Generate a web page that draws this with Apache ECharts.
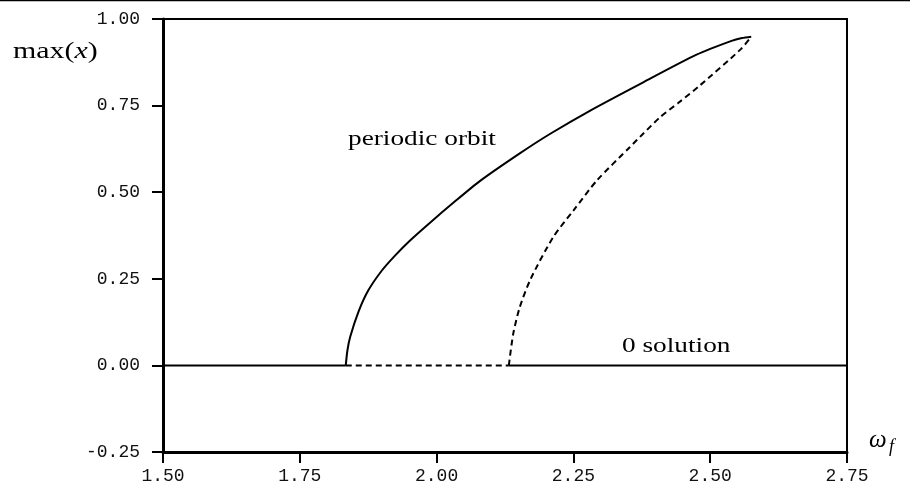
<!DOCTYPE html>
<html>
<head>
<meta charset="utf-8">
<script src="https://cdn.jsdelivr.net/npm/echarts@6/dist/echarts.min.js"></script>
<style>
html,body{margin:0;padding:0;background:#fff;}
#c{width:910px;height:488px;}
</style>
</head>
<body>
<div id="c"></div>
<script>
// Axis ticks
const xTicks = [1.50, 1.75, 2.00, 2.25, 2.50, 2.75];
const yTicks = [-0.25, 0.00, 0.25, 0.50, 0.75, 1.00];

// Zero solution segments
const zeroStableLeft = [[1.50, 0], [1.834, 0]];
const zeroUnstable = [[1.834, 0], [2.132, 0]];
const zeroStableRight = [[2.132, 0], [2.75, 0]];

// Periodic orbit: stable (upper, solid) branch
const orbitStable = [
  [1.834, 0.000], [1.837, 0.043], [1.842, 0.082], [1.857, 0.154], [1.875, 0.216],
  [1.900, 0.274], [1.924, 0.317], [1.951, 0.360], [1.988, 0.412], [2.031, 0.470],
  [2.079, 0.532], [2.152, 0.612], [2.207, 0.668], [2.280, 0.735], [2.375, 0.815],
  [2.475, 0.897], [2.539, 0.937], [2.558, 0.945], [2.575, 0.949]
];

// Periodic orbit: unstable (lower, dashed) branch
const orbitUnstable = [
  [2.132, 0.000], [2.140, 0.091], [2.152, 0.168], [2.172, 0.250], [2.213, 0.370],
  [2.250, 0.447], [2.293, 0.534], [2.353, 0.630], [2.377, 0.668], [2.408, 0.716],
  [2.442, 0.758], [2.481, 0.808], [2.556, 0.913], [2.575, 0.949]
];

const chart = echarts.init(document.getElementById('c'), null, {renderer: 'canvas'});
const monoFont = '"Liberation Mono", "DejaVu Sans Mono", monospace';
const serifFont = '"Liberation Serif", "DejaVu Serif", serif';

function lineSeries(data, dashed, smooth) {
  return {
    type: 'line', data: data, symbol: 'none', smooth: smooth ? 0.25 : false,
    silent: true,
    lineStyle: {color: '#000', width: 2, type: dashed ? [6, 4] : 'solid'},
    z: 3
  };
}

chart.setOption({
  animation: false,
  backgroundColor: '#fff',
  grid: {left: 163, right: 63, top: 19, bottom: 36, show: true, borderColor: '#000', borderWidth: 2},
  xAxis: {
    type: 'value', min: xTicks[0], max: xTicks[xTicks.length - 1], interval: 0.25,
    axisLine: {onZero: false, lineStyle: {color: '#000', width: 3}},
    axisTick: {inside: false, length: 11, lineStyle: {color: '#000', width: 2}},
    splitLine: {show: false},
    axisLabel: {color: '#111', fontFamily: monoFont, fontSize: 18, margin: 15,
      formatter: v => v.toFixed(2)}
  },
  yAxis: {
    type: 'value', min: yTicks[0], max: yTicks[yTicks.length - 1], interval: 0.25,
    axisLine: {onZero: false, lineStyle: {color: '#000', width: 3}},
    axisTick: {inside: false, length: 11, lineStyle: {color: '#000', width: 2}},
    splitLine: {show: false},
    axisLabel: {color: '#111', fontFamily: monoFont, fontSize: 18, margin: 23,
      formatter: v => v.toFixed(2)}
  },
  series: [
    lineSeries(zeroStableLeft, false, false),
    lineSeries(zeroUnstable, true, false),
    lineSeries(zeroStableRight, false, false),
    lineSeries(orbitStable, false, true),
    lineSeries(orbitUnstable, true, true)
  ],
  graphic: [
    {type: 'line', shape: {x1: 0, y1: 0.5, x2: 910, y2: 0.5}, style: {stroke: '#000', lineWidth: 1.5}},
    {type: 'text', x: 13, y: 52, scaleX: 1.3, style: {
      rich: {n: {fontFamily: serifFont, fontSize: 23, fill: '#000'},
             i: {fontFamily: serifFont, fontSize: 23, fontStyle: 'italic', fill: '#000'}},
      text: '{n|max(}{i|x}{n|)}', verticalAlign: 'middle', align: 'left'}},
    {type: 'text', x: 348, y: 139, scaleX: 1.3, style: {text: 'periodic orbit', fontFamily: serifFont, fontSize: 21, fill: '#000', verticalAlign: 'middle', align: 'left'}},
    {type: 'text', x: 622, y: 346, scaleX: 1.3, style: {text: '0 solution', fontFamily: serifFont, fontSize: 21, fill: '#000', verticalAlign: 'middle', align: 'left'}},
    {type: 'text', x: 869, y: 440, style: {text: 'ω', fontFamily: serifFont, fontSize: 25, fontStyle: 'italic', fill: '#000', verticalAlign: 'middle', align: 'left'}},
    {type: 'text', x: 889, y: 447, style: {text: 'f', fontFamily: serifFont, fontSize: 18, fontStyle: 'italic', fill: '#000', verticalAlign: 'middle', align: 'left'}}
  ]
});
</script>
</body>
</html>
